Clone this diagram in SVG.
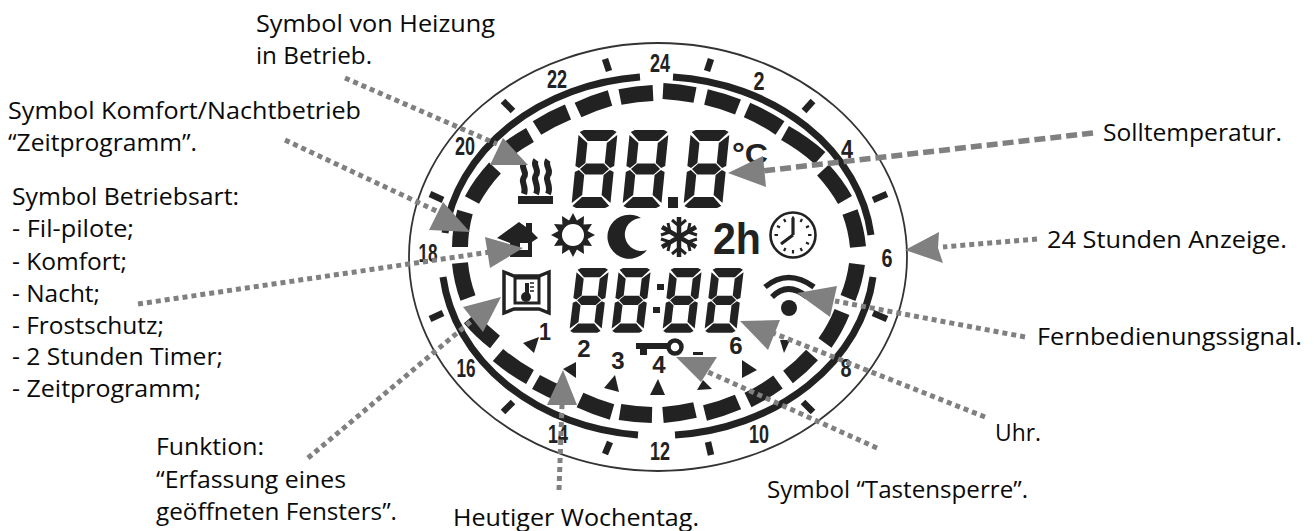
<svg xmlns="http://www.w3.org/2000/svg" xmlns:xlink="http://www.w3.org/1999/xlink" width="1314" height="531" viewBox="0 0 1314 531">
<style>
.lbl{font-family:"Open Sans","Noto Sans",sans-serif;font-size:24.5px;fill:#0a0a0a}
.num{font-family:"Liberation Sans",sans-serif;font-weight:bold;font-size:25px;fill:#222;text-anchor:middle}
.day{font-family:"Liberation Sans",sans-serif;font-weight:bold;font-size:24px;fill:#222;text-anchor:middle}
.seg{fill:none;stroke:#222;stroke-width:16}
.arc{fill:none;stroke:#222;stroke-width:7}
.tick{stroke:#222;stroke-width:6.5}
.dark{fill:#222}
.ln{fill:none;stroke:#808080;stroke-width:5;stroke-dasharray:5 4}
.ln2{fill:none;stroke:#808080;stroke-width:5.5;stroke-dasharray:11 5}
.tip{fill:#808080}
</style>
<defs>
<g id="d" class="dark">
<polygon points="5,0 35,0 39,2 30,11 10,11 1,2"/>
<polygon points="0,5 10,13 10,33 4,38 0,36"/>
<polygon points="40,5 30,13 30,33 36,38 40,36"/>
<polygon points="5,39 11,33.5 29,33.5 35,39 29,44.5 11,44.5"/>
<polygon points="0,42 4,40 10,45 10,65 0,73"/>
<polygon points="40,42 36,40 30,45 30,65 40,73"/>
<polygon points="5,78 35,78 39,76 30,67 10,67 1,76"/>
</g>
</defs>
<rect width="1314" height="531" fill="#fff"/>
<g id="display">
<ellipse cx="658" cy="257" rx="249" ry="214" fill="none" stroke="#333" stroke-width="1.8"/>
<g id="hour-ring">
<path class="arc" d="M673,77A216,179 0 0 1 871,235"/>
<path class="arc" d="M873,277A216,179 0 0 1 675,435"/>
<path class="arc" d="M638,435A216,179 0 0 1 443,277"/>
<path class="arc" d="M445,233A216,179 0 0 1 640,77"/>
<path class="seg" d="M663,91A197,162 0 0 1 695,95"/>
<path class="seg" d="M706,97A197,162 0 0 1 738,107"/>
<path class="seg" d="M747,110A197,162 0 0 1 780,128"/>
<path class="seg" d="M785,133A197,162 0 0 1 820,158"/>
<path class="seg" d="M823,170A197,162 0 0 1 845,200"/>
<path class="seg" d="M850,212A197,162 0 0 1 858,247"/>
<path class="seg" d="M857,264A197,162 0 0 1 848,298"/>
<path class="seg" d="M842,312A197,162 0 0 1 825,343"/>
<path class="seg" d="M812,355A197,162 0 0 1 788,377"/>
<path class="seg" d="M778,382A197,162 0 0 1 748,400"/>
<path class="seg" d="M738,402A197,162 0 0 1 705,413"/>
<path class="seg" d="M695,410A197,162 0 0 1 663,415"/>
<path class="seg" d="M652,415A197,162 0 0 1 620,412"/>
<path class="seg" d="M612,412A197,162 0 0 1 580,400"/>
<path class="seg" d="M566,396A197,162 0 0 1 536,382"/>
<path class="seg" d="M530,377A197,162 0 0 1 498,355"/>
<path class="seg" d="M495,342A197,162 0 0 1 470,318"/>
<path class="seg" d="M468,298A197,162 0 0 1 460,263"/>
<path class="seg" d="M460,247A197,162 0 0 1 465,212"/>
<path class="seg" d="M472,200A197,162 0 0 1 495,168"/>
<path class="seg" d="M507,150A197,162 0 0 1 530,135"/>
<path class="seg" d="M537,128A197,162 0 0 1 568,112"/>
<path class="seg" d="M578,110A197,162 0 0 1 610,98"/>
<path class="seg" d="M620,97A197,162 0 0 1 653,93"/>
<line class="tick" x1="605" y1="59" x2="609" y2="71"/>
<line class="tick" x1="503" y1="101" x2="513" y2="111"/>
<line class="tick" x1="430" y1="194" x2="443" y2="200"/>
<line class="tick" x1="707" y1="71" x2="711" y2="59"/>
<line class="tick" x1="804" y1="111" x2="813" y2="101"/>
<line class="tick" x1="873" y1="200" x2="887" y2="194"/>
<line class="tick" x1="430" y1="319" x2="443" y2="313"/>
<line class="tick" x1="503" y1="412" x2="513" y2="402"/>
<line class="tick" x1="605" y1="454" x2="610" y2="442"/>
<line class="tick" x1="711" y1="455" x2="708" y2="442"/>
<line class="tick" x1="813" y1="412" x2="803" y2="402"/>
<line class="tick" x1="887" y1="319" x2="873" y2="313"/>
<text class="num" x="557" y="88" textLength="20" lengthAdjust="spacingAndGlyphs">22</text>
<text class="num" x="660" y="72" textLength="20" lengthAdjust="spacingAndGlyphs">24</text>
<text class="num" x="759" y="90" textLength="11" lengthAdjust="spacingAndGlyphs">2</text>
<text class="num" x="847" y="158" textLength="12" lengthAdjust="spacingAndGlyphs">4</text>
<text class="num" x="887" y="267" textLength="11" lengthAdjust="spacingAndGlyphs">6</text>
<text class="num" x="846" y="377" textLength="11" lengthAdjust="spacingAndGlyphs">8</text>
<text class="num" x="759" y="443" textLength="20" lengthAdjust="spacingAndGlyphs">10</text>
<text class="num" x="660" y="460" textLength="20" lengthAdjust="spacingAndGlyphs">12</text>
<text class="num" x="558" y="443" textLength="20" lengthAdjust="spacingAndGlyphs">14</text>
<text class="num" x="466" y="377" textLength="19" lengthAdjust="spacingAndGlyphs">16</text>
<text class="num" x="428" y="262" textLength="19" lengthAdjust="spacingAndGlyphs">18</text>
<text class="num" x="465" y="155" textLength="20" lengthAdjust="spacingAndGlyphs">20</text>
</g>
<g id="temperature">
<use xlink:href="#d" href="#d" transform="matrix(0.97,0,-0.1,1,579,130)"/>
<use xlink:href="#d" href="#d" transform="matrix(0.97,0,-0.1,1,630,130)"/>
<use xlink:href="#d" href="#d" transform="matrix(0.97,0,-0.1,1,691,130)"/>
<rect class="dark" x="668" y="197" width="10" height="11"/>
<text x="732" y="164" font-family="Liberation Sans,sans-serif" font-weight="bold" font-size="30" fill="#222" textLength="36" lengthAdjust="spacingAndGlyphs">°C</text>
</g>
<g id="clock-digits">
<use xlink:href="#d" href="#d" transform="matrix(0.8,0,-0.1,0.83,577,268)"/>
<use xlink:href="#d" href="#d" transform="matrix(0.8,0,-0.1,0.83,619,268)"/>
<use xlink:href="#d" href="#d" transform="matrix(0.8,0,-0.1,0.83,670,268)"/>
<use xlink:href="#d" href="#d" transform="matrix(0.8,0,-0.1,0.83,712,268)"/>
<rect class="dark" x="657" y="284" width="7" height="6"/>
<rect class="dark" x="653" y="307" width="7" height="6"/>
</g>
<g id="heating-icon">
<rect class="dark" x="518" y="196" width="35" height="8"/>
<path d="M524,163c-4,5 4,9 0,14s3,9 0,17M536,160c-4,5 4,10 0,15s4,10 0,19M548,160c-4,5 4,10 0,15s4,10 0,19" fill="none" stroke="#222" stroke-width="6"/>
</g>
<g id="house-icon">
<polygon class="dark" points="497,238 519,222 526,227 526,223 532,223 532,232 538,238 532,242 532,257 510,257 510,243"/>
<rect x="520" y="243" width="8" height="7" fill="#fff"/>
</g>
<g id="sun-icon" transform="translate(573,235)">
<polygon class="dark" points="22,0 14.5,3.9 19,11 10.6,10.6 11,19 3.9,14.5 0,22 -3.9,14.5 -11,19 -10.6,10.6 -19,11 -14.5,3.9 -22,0 -14.5,-3.9 -19,-11 -10.6,-10.6 -11,-19 -3.9,-14.5 0,-22 3.9,-14.5 11,-19 10.6,-10.6 19,-11 14.5,-3.9"/>
<circle r="11" fill="#fff"/>
</g>
<path id="moon-icon" class="dark" d="M641,218A22,22 0 1 0 647,250A16.5,16.5 0 1 1 641,218Z"/>
<g id="frost-icon" fill="none" stroke="#222" stroke-width="4.5">
<path d="M679,217V257M662,227L696,247M662,247L696,227"/>
<path d="M672,220L679,226L686,220M672,254L679,248L686,254M661,235L670,232L668,223M697,239L688,242L690,251M661,239L670,242L668,251M697,235L688,232L690,223" stroke-width="3"/>
</g>
<text id="timer-icon" x="713" y="254" font-family="Liberation Sans,sans-serif" font-weight="bold" font-size="44" fill="#222" textLength="48" lengthAdjust="spacingAndGlyphs">2h</text>
<g id="clock-icon" transform="translate(793,235)">
<circle r="22.5" fill="none" stroke="#222" stroke-width="2.6"/>
<path d="M0,0V-17M0,0L-12,9" fill="none" stroke="#222" stroke-width="3.2"/>
<path d="M0,-18.5V-15M9,-16L7.5,-13M16,-9L13,-7.5M18.5,0H15M16,9L13,7.5M9,16L7.5,13M0,18.5V15M-9,16L-7.5,13M-18.5,0H-15M-16,-9L-13,-7.5M-9,-16L-7.5,-13" fill="none" stroke="#222" stroke-width="2.2"/>
</g>
<g id="window-icon" fill="none" stroke="#222">
<polygon points="504,272 514,276 539,276 549,272 549,313 539,309 514,309 504,313" stroke-width="3.5"/>
<rect x="515" y="278" width="24" height="25" stroke-width="3"/>
<path d="M527,283V296" stroke-width="4"/>
<circle class="dark" cx="526" cy="297" r="5" stroke="none"/>
<path d="M530,283H534M530,287H534M530,291H534" stroke-width="1.6"/>
</g>
<g id="signal-icon">
<path d="M765,287Q788,268 814,287" fill="none" stroke="#222" stroke-width="5.5"/>
<path d="M772,297Q788,281 807,297" fill="none" stroke="#222" stroke-width="5.5"/>
<circle class="dark" cx="789" cy="308" r="8"/>
</g>
<g id="key-icon">
<rect class="dark" x="636" y="343" width="32" height="6"/>
<rect class="dark" x="640" y="348" width="7" height="7"/>
<circle cx="675" cy="347" r="6.5" fill="#fff" stroke="#222" stroke-width="4.5"/>
</g>
<g id="weekdays">
<polygon class="dark" points="523,343 539,337 534,353"/>
<polygon class="dark" points="563,369 576,362 576,378"/>
<polygon class="dark" points="604,388 615,375 619,392"/>
<polygon class="dark" points="650,395 658,379 665,395"/>
<polygon class="dark" points="697,390 703,380 712,389"/>
<polygon class="dark" points="742,360 757,370 742,378"/>
<polygon class="dark" points="780,340 790,340 784,353"/>
<rect class="dark" x="693" y="352" width="10" height="3"/>
<text class="day" x="545" y="340" textLength="12" lengthAdjust="spacingAndGlyphs">1</text>
<text class="day" x="584" y="357">2</text>
<text class="day" x="618" y="369">3</text>
<text class="day" x="659" y="373">4</text>
<text class="day" x="736" y="354">6</text>
</g>
</g>
<g id="connectors">
<line class="ln" x1="345" y1="78" x2="497" y2="144"/>
<polygon class="tip" points="503,138 490,165 528,165"/>
<line class="ln" x1="285" y1="140" x2="445" y2="215"/>
<polygon class="tip" points="443,202 429,230 470,232"/>
<line class="ln" x1="138" y1="304" x2="490" y2="252"/>
<polygon class="tip" points="485,237 490,268 523,248"/>
<line class="ln" x1="308" y1="458" x2="475" y2="318"/>
<polygon class="tip" points="501,297 463,307 483,332"/>
<line class="ln" x1="559" y1="490" x2="562" y2="405"/>
<polygon class="tip" points="563,370 547,405 577,405"/>
<line class="ln" x1="877" y1="448" x2="708" y2="372"/>
<polygon class="tip" points="676,357 717,357 701,382"/>
<line class="ln" x1="985" y1="417" x2="773" y2="333"/>
<polygon class="tip" points="740,321 780,320 768,350"/>
<line class="ln" x1="1025" y1="337" x2="835" y2="301"/>
<polygon class="tip" points="837,286 797,293 830,317"/>
<line class="ln" x1="1037" y1="239" x2="943" y2="247"/>
<polygon class="tip" points="905,250 939,232 938,248 943,263"/>
<line class="ln2" x1="1093" y1="133" x2="762" y2="171"/>
<polygon class="tip" points="728,173 763,156 766,187"/>
</g>
<g id="label-heating"><text class="lbl" x="256" y="32" textLength="239" lengthAdjust="spacingAndGlyphs">Symbol von Heizung</text><text class="lbl" x="256" y="64" textLength="116" lengthAdjust="spacingAndGlyphs">in Betrieb.</text></g>
<g id="label-comfort"><text class="lbl" x="8" y="119" textLength="353" lengthAdjust="spacingAndGlyphs">Symbol Komfort/Nachtbetrieb</text><text class="lbl" x="8" y="151" textLength="189" lengthAdjust="spacingAndGlyphs">“Zeitprogramm”.</text></g>
<g id="label-mode">
<text class="lbl" x="12" y="205" textLength="227" lengthAdjust="spacingAndGlyphs">Symbol Betriebsart:</text>
<text class="lbl" x="12" y="237" textLength="122" lengthAdjust="spacingAndGlyphs">- Fil-pilote;</text>
<text class="lbl" x="12" y="270" textLength="115" lengthAdjust="spacingAndGlyphs">- Komfort;</text>
<text class="lbl" x="12" y="302" textLength="88" lengthAdjust="spacingAndGlyphs">- Nacht;</text>
<text class="lbl" x="12" y="334" textLength="152" lengthAdjust="spacingAndGlyphs">- Frostschutz;</text>
<text class="lbl" x="12" y="365" textLength="211" lengthAdjust="spacingAndGlyphs">- 2 Stunden Timer;</text>
<text class="lbl" x="12" y="397" textLength="189" lengthAdjust="spacingAndGlyphs">- Zeitprogramm;</text>
</g>
<g id="label-window"><text class="lbl" x="156" y="455" textLength="108" lengthAdjust="spacingAndGlyphs">Funktion:</text><text class="lbl" x="156" y="488" textLength="190" lengthAdjust="spacingAndGlyphs">“Erfassung eines</text><text class="lbl" x="156" y="520" textLength="241" lengthAdjust="spacingAndGlyphs">geöffneten Fensters”.</text></g>
<text id="label-weekday" class="lbl" x="453" y="526" textLength="246" lengthAdjust="spacingAndGlyphs">Heutiger Wochentag.</text>
<text id="label-lock" class="lbl" x="767" y="498" textLength="261" lengthAdjust="spacingAndGlyphs">Symbol “Tastensperre”.</text>
<text id="label-clock" class="lbl" x="995" y="441" textLength="46" lengthAdjust="spacingAndGlyphs">Uhr.</text>
<text id="label-signal" class="lbl" x="1037" y="345" textLength="265" lengthAdjust="spacingAndGlyphs">Fernbedienungssignal.</text>
<text id="label-24h" class="lbl" x="1047" y="248" textLength="240" lengthAdjust="spacingAndGlyphs">24 Stunden Anzeige.</text>
<text id="label-setpoint" class="lbl" x="1103" y="141" textLength="179" lengthAdjust="spacingAndGlyphs">Solltemperatur.</text>
</svg>
